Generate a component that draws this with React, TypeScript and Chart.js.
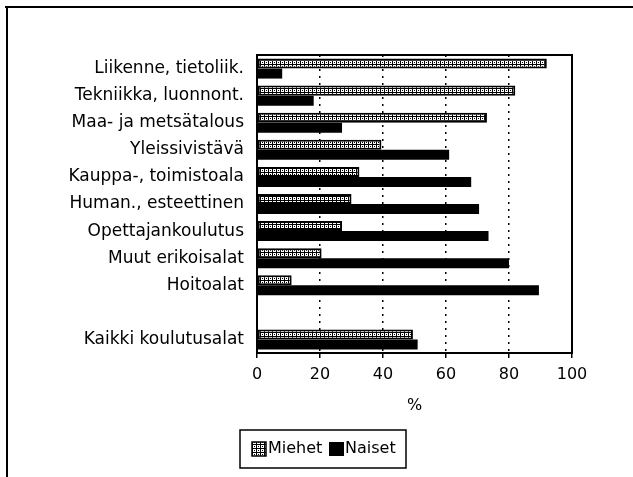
import React, { useEffect, useRef } from "react";
import { Chart, registerables } from "chart.js";

Chart.register(...registerables);

const categories = [
  "Liikenne, tietoliik.",
  "Tekniikka, luonnont.",
  "Maa- ja metsätalous",
  "Yleissivistävä",
  "Kauppa-, toimistoala",
  "Human., esteettinen",
  "Opettajankoulutus",
  "Muut erikoisalat",
  "Hoitoalat",
  "",
  "Kaikki koulutusalat",
];
const miehet = [92, 82, 73, 39.5, 32.5, 30, 27, 20.5, 11, null, 49.5];
const naiset = [8, 18, 27, 61, 68, 70.5, 73.5, 80, 89.5, null, 51];
const seriesNames = ["Miehet", "Naiset"];
const xMin = 0;
const xMax = 100;
const xStep = 20;
const axisTitle = "%";

const FONT = "'DejaVu Sans', 'Liberation Sans', Arial, sans-serif";

function makePattern(): CanvasPattern | string {
  const c = document.createElement("canvas");
  c.width = 4;
  c.height = 4;
  const g = c.getContext("2d");
  if (!g) return "#888";
  g.fillStyle = "#fff";
  g.fillRect(0, 0, 4, 4);
  g.fillStyle = "#000";
  g.fillRect(0, 0, 4, 1);
  g.fillRect(0, 0, 1, 4);
  g.fillRect(2, 2, 1, 1);
  const p = g.createPattern(c, "repeat");
  return p || "#888";
}

export default function App() {
  const ref = useRef<HTMLCanvasElement | null>(null);

  useEffect(() => {
    const canvas = ref.current;
    if (!canvas) return;
    const pattern = makePattern();

    const framePlugin = {
      id: "framePlugin",
      beforeDraw(chart: any) {
        const ctx = chart.ctx;
        ctx.save();
        ctx.fillStyle = "#fff";
        ctx.fillRect(0, 0, chart.width, chart.height);
        ctx.restore();
      },
      afterDraw(chart: any) {
        const ctx = chart.ctx;
        const a = chart.chartArea;
        ctx.save();
        ctx.setLineDash([]);
        // plot frame
        ctx.strokeStyle = "#000";
        ctx.lineWidth = 2;
        ctx.strokeRect(a.left, a.top, a.right - a.left, a.bottom - a.top);
        // outer page frame
        ctx.lineWidth = 2;
        ctx.beginPath();
        ctx.moveTo(5, 7);
        ctx.lineTo(chart.width, 7);
        ctx.moveTo(7, 7);
        ctx.lineTo(7, chart.height);
        ctx.stroke();
        // legend
        const lx = 240, ly = 430, lw = 166, lh = 38;
        ctx.lineWidth = 1.5;
        ctx.strokeRect(lx, ly, lw, lh);
        ctx.font = "16px " + FONT;
        ctx.textBaseline = "middle";
        ctx.textAlign = "left";
        ctx.fillStyle = "#000";
        const cy = ly + lh / 2;
        // Miehet swatch
        ctx.fillStyle = pattern as any;
        ctx.fillRect(252, cy - 7, 14, 14);
        ctx.strokeStyle = "#000";
        ctx.lineWidth = 1.5;
        ctx.strokeRect(252, cy - 7, 14, 14);
        ctx.fillStyle = "#000";
        ctx.fillText(seriesNames[0], 268, cy);
        // Naiset swatch
        ctx.fillRect(329, cy - 7, 15, 14);
        ctx.fillText(seriesNames[1], 345, cy);
        ctx.restore();
      },
    };

    const chart = new Chart(canvas, {
      type: "bar",
      data: {
        labels: categories,
        datasets: [
          {
            label: seriesNames[0],
            data: miehet as any,
            backgroundColor: pattern as any,
            borderColor: "#000",
            borderWidth: 2,
            borderSkipped: false,
            categoryPercentage: 0.74,
            barPercentage: 1,
          },
          {
            label: seriesNames[1],
            data: naiset as any,
            backgroundColor: "#000",
            borderColor: "#000",
            borderWidth: 0,
            categoryPercentage: 0.74,
            barPercentage: 1,
          },
        ],
      },
      options: {
        indexAxis: "y",
        responsive: false,
        animation: false,
        devicePixelRatio: 1,
        layout: { padding: { top: 55, right: 61, left: 0, bottom: 0 } },
        plugins: {
          legend: { display: false },
          tooltip: { enabled: false },
        },
        scales: {
          x: {
            type: "linear",
            min: xMin,
            max: xMax,
            ticks: {
              stepSize: xStep,
              color: "#000",
              font: { family: FONT, size: 16 },
              padding: 7,
            },
            grid: {
              color: (c: any) =>
                c.tick && (c.tick.value === xMin || c.tick.value === xMax)
                  ? "rgba(0,0,0,0)"
                  : "#000",
              lineWidth: 1.5,
              drawTicks: true,
              tickLength: 5,
              tickColor: "#000",
              tickWidth: 1.5,
              tickBorderDash: [],
            },
            border: { display: false, dash: [2, 5] },
            title: {
              display: true,
              text: axisTitle,
              color: "#000",
              font: { family: FONT, size: 16 },
              padding: { top: 0, bottom: 62 },
            },
            afterFit: (s: any) => {
              s.height = 124;
            },
          },
          y: {
            type: "category",
            grid: { display: false },
            border: { display: false },
            ticks: {
              color: "#000",
              font: { family: FONT, size: 17 },
              padding: 5,
              autoSkip: false,
            },
            afterFit: (s: any) => {
              s.width = 257;
            },
          },
        },
      },
      plugins: [framePlugin],
    });

    return () => chart.destroy();
  }, []);

  return (
    <div style={{ position: "fixed", left: 0, top: 0, width: 633, height: 477, background: "#fff" }}>
      <canvas ref={ref} width={633} height={477} style={{ display: "block", width: 633, height: 477 }} />
    </div>
  );
}
